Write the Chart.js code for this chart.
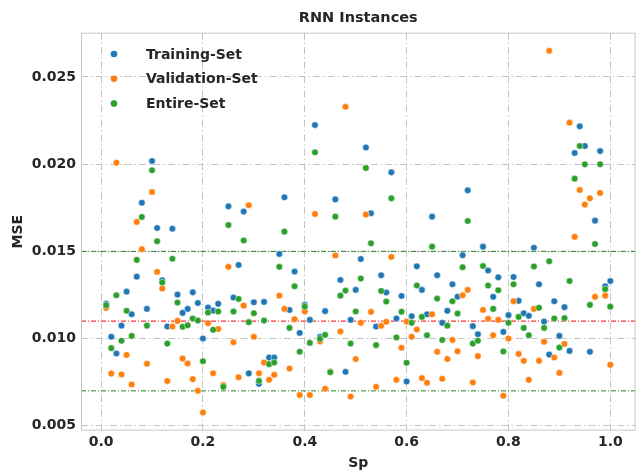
<!DOCTYPE html>
<html>
<head>
  <title>RNN Instances</title>
  <script src="https://cdn.jsdelivr.net/npm/chart.js"></script>
  <style>
    body { margin: 0; background: #fff; }
  </style>
</head>
<body>
  <canvas id="chart" width="640" height="473"></canvas>

  <script>
    const sp = [0.01, 0.02, 0.03, 0.04, 0.05, 0.06, 0.07, 0.08, 0.09, 0.10,
                0.11, 0.12, 0.13, 0.14, 0.15, 0.16, 0.17, 0.18, 0.19, 0.20,
                0.21, 0.22, 0.23, 0.24, 0.25, 0.26, 0.27, 0.28, 0.29, 0.30,
                0.31, 0.32, 0.33, 0.34, 0.35, 0.36, 0.37, 0.38, 0.39, 0.40,
                0.41, 0.42, 0.43, 0.44, 0.45, 0.46, 0.47, 0.48, 0.49, 0.50,
                0.51, 0.52, 0.53, 0.54, 0.55, 0.56, 0.57, 0.58, 0.59, 0.60,
                0.61, 0.62, 0.63, 0.64, 0.65, 0.66, 0.67, 0.68, 0.69, 0.70,
                0.71, 0.72, 0.73, 0.74, 0.75, 0.76, 0.77, 0.78, 0.79, 0.80,
                0.81, 0.82, 0.83, 0.84, 0.85, 0.86, 0.87, 0.88, 0.89, 0.90,
                0.91, 0.92, 0.93, 0.94, 0.95, 0.96, 0.97, 0.98, 0.99, 1.00];

    const trainMSE = [0.01199, 0.0101, 0.00914, 0.01074, 0.01269, 0.01139, 0.01355, 0.01779, 0.0117, 0.02018,
                      0.01634, 0.01334, 0.01069, 0.0163, 0.01252, 0.01147, 0.0117, 0.01265, 0.01204, 0.0100,
                      0.01178, 0.0116, 0.01199, 0.00728, 0.01758, 0.01235, 0.01422, 0.01728, 0.0080, 0.01208,
                      0.0074, 0.0121, 0.00891, 0.00891, 0.01485, 0.0181, 0.01164, 0.01384, 0.01032, 0.01193,
                      0.01107, 0.02224, 0.0101, 0.01157, 0.0081, 0.01798, 0.01336, 0.00809, 0.01107, 0.01279,
                      0.01456, 0.02096, 0.01718, 0.01069, 0.01363, 0.01264, 0.01953, 0.01115, 0.01244, 0.00754,
                      0.01128, 0.01414, 0.01279, 0.01139, 0.01699, 0.01363, 0.0109, 0.01159, 0.01311, 0.0124,
                      0.01478, 0.0185, 0.01071, 0.01025, 0.01527, 0.0139, 0.01239, 0.01351, 0.01038, 0.01134,
                      0.01353, 0.01216, 0.01145, 0.0113, 0.01521, 0.01311, 0.01097, 0.00908, 0.01214, 0.01015,
                      0.0118, 0.00929, 0.02064, 0.02217, 0.02104, 0.00924, 0.01676, 0.02075, 0.0130, 0.0133];

    const validMSE = [0.01176, 0.00799, 0.02008, 0.00794, 0.00906, 0.00736, 0.01669, 0.01512, 0.00855, 0.0184,
                      0.01382, 0.01287, 0.00756, 0.01069, 0.01101, 0.00885, 0.00857, 0.00767, 0.0070, 0.00576,
                      0.01088, 0.00801, 0.01055, 0.00733, 0.01411, 0.00979, 0.00778, 0.01189, 0.01764, 0.0101,
                      0.00801, 0.00862, 0.00763, 0.00792, 0.01246, 0.0117, 0.00828, 0.01111, 0.00676, 0.01155,
                      0.00676, 0.01714, 0.00983, 0.00712, 0.00811, 0.01476, 0.0104, 0.02329, 0.00667, 0.00882,
                      0.0109, 0.01711, 0.01153, 0.00723, 0.01073, 0.01096, 0.01468, 0.00763, 0.00947, 0.01097,
                      0.0101, 0.01052, 0.00773, 0.00746, 0.01139, 0.00924, 0.00769, 0.00883, 0.00992, 0.00927,
                      0.01248, 0.01279, 0.00748, 0.00899, 0.01164, 0.01113, 0.01019, 0.01107, 0.00672, 0.0100,
                      0.01214, 0.00912, 0.00872, 0.00763, 0.0117, 0.00872, 0.00981, 0.0265, 0.00891, 0.00803,
                      0.00969, 0.02238, 0.01583, 0.01852, 0.01768, 0.01804, 0.01239, 0.01835, 0.01246, 0.00849];

    const entireMSE = [0.01191, 0.00945, 0.01248, 0.00987, 0.01159, 0.01015, 0.01451, 0.01697, 0.01074, 0.01965,
                       0.01558, 0.01321, 0.00971, 0.01458, 0.01206, 0.01067, 0.01076, 0.01115, 0.01103, 0.0087,
                       0.01149, 0.0105, 0.01155, 0.00723, 0.01651, 0.01155, 0.01227, 0.01562, 0.01094, 0.01145,
                       0.00757, 0.01103, 0.00853, 0.00862, 0.01411, 0.01613, 0.01061, 0.0130, 0.00924, 0.01183,
                       0.00975, 0.02068, 0.00998, 0.01021, 0.00807, 0.01699, 0.01246, 0.01275, 0.00971, 0.01155,
                       0.01344, 0.01978, 0.01546, 0.00962, 0.01273, 0.01212, 0.01804, 0.01006, 0.01153, 0.00861,
                       0.0109, 0.01304, 0.01124, 0.01019, 0.01527, 0.01229, 0.00992, 0.01074, 0.01214, 0.01143,
                       0.01409, 0.01674, 0.00971, 0.00987, 0.01416, 0.01304, 0.0117, 0.01277, 0.00926, 0.0109,
                       0.01311, 0.01124, 0.01061, 0.01019, 0.01413, 0.01176, 0.01061, 0.01443, 0.01115, 0.00948,
                       0.01117, 0.0133, 0.01917, 0.02104, 0.01999, 0.01193, 0.01542, 0.01999, 0.01283, 0.01183];

    const seriesNames = ['Training-Set', 'Validation-Set', 'Entire-Set'];
    const seriesColors = ['#1f77b4', '#ff7f0e', '#2ca02c'];

    // reference levels: mean (red) and band (green)
    const meanLevel = 0.011;
    const bandLevels = [0.015, 0.007];

    const xTicks = [0.0, 0.2, 0.4, 0.6, 0.8, 1.0];
    const yTicks = [0.005, 0.010, 0.015, 0.020, 0.025];
    const xMin = -0.0395, xMax = 1.0495;
    const yMin = 0.00472, yMax = 0.02754;

    const FONT = "'DejaVu Sans', sans-serif";
    const TEXT = '#262626';
    const GRID = '#c4c4c4';

    function pts(ys) {
      return sp.map((x, i) => ({ x: x, y: ys[i] }));
    }

    function refLine(level, color, order) {
      return {
        label: '',
        data: [{ x: xMin, y: level }, { x: xMax, y: level }],
        showLine: true,
        borderColor: color,
        borderWidth: 1,
        borderDash: [5, 2, 1, 2],
        pointRadius: 0,
        order: order
      };
    }

    const decor = {
      id: 'decor',
      afterDraw(chart) {
        const ctx = chart.ctx;
        const a = chart.chartArea;
        ctx.save();
        ctx.strokeStyle = '#c8c8c8';
        ctx.lineWidth = 1;
        ctx.strokeRect(a.left + 0.5, a.top + 0.5, a.right - a.left - 1, a.bottom - a.top - 1);

        ctx.fillStyle = TEXT;
        ctx.font = "bold 14.5px " + FONT;
        ctx.textAlign = 'center';
        ctx.textBaseline = 'middle';
        ctx.fillText('RNN Instances', (a.left + a.right) / 2, 18);

        // legend inside the axes, top-left
        ctx.font = "bold 14px " + FONT;
        ctx.textAlign = 'left';
        for (let i = 0; i < seriesNames.length; i++) {
          const y = 54 + i * 24.8;
          ctx.beginPath();
          ctx.arc(114, y, 3.3, 0, Math.PI * 2);
          ctx.fillStyle = seriesColors[i];
          ctx.fill();
          ctx.fillStyle = TEXT;
          ctx.fillText(seriesNames[i], 146, y + 1);
        }
        ctx.restore();
      }
    };

    const scatterSets = [trainMSE, validMSE, entireMSE].map((ys, i) => ({
      label: seriesNames[i],
      data: pts(ys),
      backgroundColor: seriesColors[i],
      borderColor: '#ffffff',
      borderWidth: 0.5,
      pointRadius: 3.3,
      order: 3 - i
    }));

    new Chart(document.getElementById('chart'), {
      type: 'scatter',
      data: {
        datasets: scatterSets.concat([
          refLine(meanLevel, '#ff0000', 10),
          refLine(bandLevels[0], '#2a7f2a', 10),
          refLine(bandLevels[1], '#2a7f2a', 10)
        ])
      },
      options: {
        responsive: false,
        animation: false,
        devicePixelRatio: 1,
        layout: { padding: { top: 32.7, right: 0, bottom: 0, left: 0 } },
        plugins: {
          legend: { display: false },
          tooltip: { enabled: false }
        },
        scales: {
          x: {
            type: 'linear',
            min: xMin,
            max: xMax,
            afterBuildTicks: s => { s.ticks = xTicks.map(v => ({ value: v })); },
            afterFit: s => { s.height = 42.4; },
            ticks: {
              callback: v => v.toFixed(1),
              font: { family: FONT, size: 14, weight: 'bold' },
              color: TEXT,
              padding: 3
            },
            grid: { color: GRID, lineWidth: 1, drawTicks: false },
            border: { display: false, dash: [7, 3, 1.5, 3] },
            title: {
              display: true,
              text: 'Sp',
              font: { family: FONT, size: 14, weight: 'bold' },
              color: TEXT,
              padding: { top: 0, bottom: 1 }
            }
          },
          y: {
            type: 'linear',
            min: yMin,
            max: yMax,
            afterBuildTicks: s => { s.ticks = yTicks.map(v => ({ value: v })); },
            afterFit: s => { s.width = 81; },
            ticks: {
              callback: v => v.toFixed(3),
              font: { family: FONT, size: 14, weight: 'bold' },
              color: TEXT,
              padding: 5
            },
            grid: { color: GRID, lineWidth: 1, drawTicks: false },
            border: { display: false, dash: [7, 3, 1.5, 3] },
            title: {
              display: true,
              text: 'MSE',
              font: { family: FONT, size: 14, weight: 'bold' },
              color: TEXT,
              padding: { top: 10, bottom: 0 }
            }
          }
        }
      },
      plugins: [decor]
    });
  </script>
</body>
</html>
